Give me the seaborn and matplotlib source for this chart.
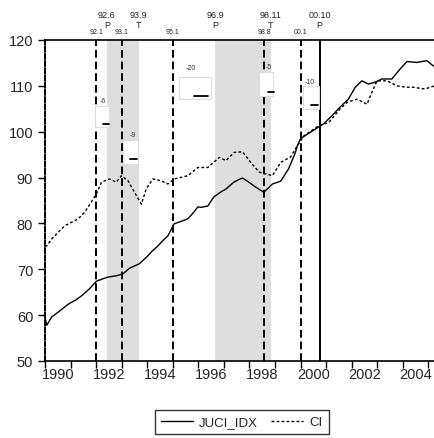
import matplotlib
matplotlib.use("Agg")
import matplotlib.pyplot as plt
import matplotlib.transforms as mtransforms
from matplotlib.patches import Rectangle
import seaborn as sns
import pandas as pd

# ---- data ----
juci_year = [1990.00, 1990.07, 1990.26, 1990.55, 1990.91, 1991.20, 1991.43, 1991.75, 1992.01,
             1992.25, 1992.47, 1992.80, 1993.05, 1993.30, 1993.49, 1993.69, 1994.00, 1994.20,
             1994.42, 1994.60, 1994.81, 1995.05, 1995.30, 1995.59, 1995.80, 1995.98, 1996.10,
             1996.37, 1996.61, 1996.89, 1997.08, 1997.39, 1997.60, 1997.73, 1997.92, 1998.25,
             1998.56, 1998.90, 1999.22, 1999.53, 1999.80, 1999.87, 2000.00, 2000.39, 2000.90,
             2001.23, 2001.55, 2001.87, 2002.14, 2002.40, 2002.65, 2002.92, 2003.18, 2003.57,
             2003.90, 2004.16, 2004.55, 2004.94, 2005.18, 2005.26]
juci_val = [59.5, 57.8, 59.6, 60.8, 62.4, 63.3, 64.2, 65.8, 67.4,
            67.9, 68.3, 68.6, 69.0, 70.2, 70.7, 71.2, 72.8, 74.0,
            75.1, 76.2, 77.3, 79.9, 80.4, 81.0, 82.3, 83.6, 83.5,
            83.8, 85.8, 86.9, 87.5, 89.0, 89.6, 89.9, 89.2, 87.9,
            86.8, 88.6, 89.2, 91.9, 95.5, 96.9, 98.5, 99.9, 101.7,
            103.5, 105.4, 107.1, 109.7, 111.1, 110.4, 110.8, 111.5, 111.5,
            113.7, 115.3, 115.1, 115.5, 114.4, 114.2]

ci_year = [1990.00, 1990.07, 1990.26, 1990.52, 1990.78, 1991.30, 1991.56, 1992.01, 1992.21,
           1992.52, 1992.79, 1992.99, 1993.25, 1993.51, 1993.77, 1993.96, 1994.22, 1994.55,
           1994.81, 1995.06, 1995.59, 1995.98, 1996.37, 1996.82, 1997.08, 1997.40, 1997.73,
           1998.05, 1998.38, 1998.64, 1998.90, 1999.22, 1999.61, 1999.87, 2000.13, 2000.71,
           2001.10, 2001.55, 2001.82, 2002.21, 2002.60, 2002.79, 2002.99, 2003.38, 2003.77,
           2004.16, 2004.40, 2004.87, 2005.06, 2005.26]
ci_val = [75.0, 75.1, 76.6, 78.1, 79.5, 81.0, 82.5, 86.4, 89.0,
          89.7, 89.0, 90.4, 89.3, 86.7, 84.2, 87.5, 89.7, 89.3,
          88.6, 89.7, 90.4, 92.2, 92.2, 94.4, 93.7, 95.5, 95.6,
          93.3, 91.2, 90.8, 90.4, 93.3, 94.5, 96.9, 99.1, 101.3,
          102.0, 105.0, 106.4, 107.1, 106.0, 108.6, 111.1, 111.1, 110.0,
          109.7, 109.7, 109.3, 109.7, 110.0]

series_names = ["JUCI_IDX", "CI"]

# reference dates (year fractions) and labels
dashed_dates = [1990.0, 1992.0, 1993.0, 1995.0, 1998.58, 2000.0]
dashed_labels = ["", "92.1", "93.1", "95.1", "98.8", "00.1"]
solid_date = 2000.75
shade_spans = [(1992.42, 1993.67), (1996.67, 1998.83)]
turn_dates = [1992.42, 1993.67, 1996.67, 1998.83, 2000.75]
turn_labels = ["92.6", "93.9", "96.9", "98.11", "00.10"]
turn_marks = ["P", "T", "P", "T", "P"]

# lag boxes: (x0, x1, y0, y1, label_x, label_y, bar_x0, bar_x1, bar_y)
lag_labels = ["-6", "-9", "-20", "-5", "-10"]
lag_boxes = [(1991.94, 1992.52, 101.0, 105.6, 1992.27, 106.9, 1992.27, 1992.49, 101.7),
             (1993.07, 1993.65, 93.0, 98.2, 1993.42, 99.3, 1993.34, 1993.61, 94.0),
             (1995.25, 1996.49, 107.1, 111.9, 1995.71, 113.9, 1995.83, 1996.37, 107.8),
             (1998.36, 1998.93, 107.8, 113.0, 1998.75, 114.3, 1998.71, 1998.95, 108.6),
             (2000.08, 2000.72, 105.0, 110.0, 2000.35, 111.0, 2000.39, 2000.70, 105.8)]

# ---- plotting ----
sns.set_style("ticks")
plt.rcParams["font.family"] = ["Liberation Sans", "DejaVu Sans"]

fig = plt.figure(figsize=(4.35, 4.39), dpi=100)
ax = fig.add_axes([45 / 435, 1 - 362 / 439, 1 - 45 / 435, (362 - 41) / 439])

for a, b in shade_spans:
    ax.axvspan(a, b, color="#dedede", lw=0, zorder=0)

df1 = pd.DataFrame({"year": juci_year, "value": juci_val})
df2 = pd.DataFrame({"year": ci_year, "value": ci_val})
sns.lineplot(data=df1, x="year", y="value", ax=ax, color="black", lw=1.0,
             label=series_names[0], sort=False, zorder=3)
sns.lineplot(data=df2, x="year", y="value", ax=ax, color="black", lw=1.0,
             label=series_names[1], sort=False, zorder=3, linestyle=(0, (2, 1.6)))

for d in dashed_dates[1:]:
    ax.axvline(d, color="black", lw=1.4, linestyle=(0, (4, 2)), zorder=2)
ax.axvline(solid_date, color="black", lw=1.4, zorder=2)

for (x0, x1, y0, y1, tx, ty, bx0, bx1, by), lab in zip(lag_boxes, lag_labels):
    ax.add_patch(Rectangle((x0, y0), x1 - x0, y1 - y0, facecolor="white",
                           edgecolor="#dddddd", lw=0.8, zorder=4))
    ax.plot([bx0, bx1], [by, by], color="black", lw=1.3, zorder=5)
    ax.text(tx, ty, lab, fontsize=5, ha="center", va="center", color="#333333", zorder=5)

ax.set_xlim(1990.0, 2005.26)
ax.set_ylim(50, 120)
ax.set_xlabel("")
ax.set_ylabel("")

years = list(range(1990, 2006))
ax.set_xticks(years)
ax.set_xticklabels([""] * len(years))
lab_years = list(range(1990, 2005, 2))
ax.set_xticks([y + 0.5 for y in lab_years], minor=True)
ax.set_xticklabels([str(y) for y in lab_years], minor=True, fontsize=10.5)
ax.tick_params(axis="x", which="minor", length=0, pad=4)
ax.tick_params(axis="x", which="major", length=5, width=1, direction="out", color="black")
ax.set_yticks(range(50, 121, 10))
ax.tick_params(axis="y", length=5, width=1, direction="out", labelsize=10.5, color="black")

for side in ["top", "bottom"]:
    ax.spines[side].set_visible(True)
    ax.spines[side].set_linewidth(1.2)
    ax.spines[side].set_color("black")
ax.spines["right"].set_visible(False)
ax.spines["left"].set_linewidth(1.4)
ax.spines["left"].set_color("black")
ax.spines["left"].set_linestyle((0, (2.5, 1.2)))

trans = mtransforms.blended_transform_factory(ax.transData, fig.transFigure)
for d, lab in zip(dashed_dates[1:], dashed_labels[1:]):
    ax.text(d, 1 - 33 / 439, lab, transform=trans, fontsize=5, ha="center",
            va="center", clip_on=False, color="#222222")
for d, lab, mk in zip(turn_dates, turn_labels, turn_marks):
    ax.text(d, 1 - 15 / 439, lab, transform=trans, fontsize=6.5, ha="center",
            va="center", clip_on=False, color="#222222")
    ax.text(d, 1 - 26 / 439, mk, transform=trans, fontsize=6.5, ha="center",
            va="center", clip_on=False, color="#222222")

ax.legend_.remove()
handles, labels = ax.get_legend_handles_labels()
leg = fig.legend(handles, labels, loc="center", bbox_to_anchor=(242 / 435, 1 - 423 / 439),
                 ncol=2, frameon=True, fancybox=False, fontsize=9.5, handlelength=2.4,
                 columnspacing=1.0, handletextpad=0.5, borderpad=0.45)
leg.get_frame().set_edgecolor("black")
leg.get_frame().set_linewidth(1.0)

fig.savefig("out.png", dpi=100)
